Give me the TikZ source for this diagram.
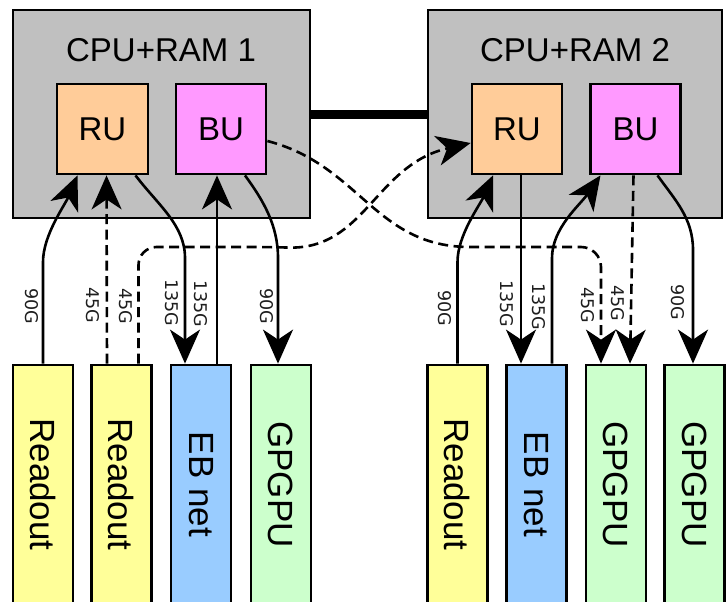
\documentclass[tikz,border=0pt]{standalone}
\usepackage{fontspec}
\setmainfont{Liberation Sans}
\newfontfamily\lblfont{DejaVu Sans}
\usepackage{graphicx}
\usetikzlibrary{arrows.meta}
\definecolor{boxgray}{RGB}{192,192,192}
\definecolor{ruc}{RGB}{255,204,153}
\definecolor{buc}{RGB}{255,153,255}
\definecolor{rdc}{RGB}{255,255,153}
\definecolor{ebc}{RGB}{153,204,255}
\definecolor{gpc}{RGB}{204,255,204}
\definecolor{labelgray}{RGB}{30,30,30}
\begin{document}
\begin{tikzpicture}[x=1pt,y=-1pt,
  outer/.style={draw, line width=2.8pt, fill=boxgray, inner sep=0pt},
  unitbox/.style={draw, line width=2.8pt, inner sep=0pt, minimum width=90pt, minimum height=90pt, font=\fontsize{33}{36}\selectfont},
  devbox/.style={draw, line width=2.8pt, inner sep=0pt, minimum width=60pt, minimum height=239pt, font=\fontsize{35}{38}\selectfont},
  title/.style={anchor=base, inner sep=0pt, font=\fontsize{33}{36}\selectfont},
  lbl/.style={rotate=-90, inner sep=0pt, text=labelgray, font=\lblfont\fontsize{17.5}{20}\selectfont},
  conn/.style={line width=2.6pt, -{Stealth[length=34pt,width=30pt,inset=10pt]}},
  dconn/.style={conn, dash pattern=on 10pt off 5.5pt},
]
\useasboundingbox (0,0) rectangle (726,602);
\fill[white] (0,0) rectangle (726,602);

% containers
\node[outer, minimum width=297pt, minimum height=208pt] (c1) at (161.5,114) {};
\node[outer, minimum width=294pt, minimum height=208pt] (c2) at (575,114) {};
\draw[line width=9pt] (c1.east) -- (c2.west);
\node[title] (t1) at (161,62) {CPU+RAM 1};
\node[title] (t2) at (575,62) {CPU+RAM 2};

% units
\node[unitbox, fill=ruc, minimum width=91pt] (ru1) at (102.5,129) {RU};
\node[unitbox, fill=buc] (bu1) at (221,129) {BU};
\node[unitbox, fill=ruc] (ru2) at (517,129) {RU};
\node[unitbox, fill=buc] (bu2) at (635.5,129) {BU};

% devices
\node[devbox, fill=rdc] (r1) at (43,484.5) {\rotatebox{-90}{Readout}};
\node[devbox, fill=rdc] (r2) at (121.5,484.5) {\rotatebox{-90}{Readout}};
\node[devbox, fill=ebc] (e1) at (201,484.5) {\rotatebox{-90}{EB net}};
\node[devbox, fill=gpc] (g1) at (281,484.5) {\rotatebox{-90}{GPGPU}};
\node[devbox, fill=rdc] (rd) at (457.5,484.5) {\rotatebox{-90}{Readout}};
\node[devbox, fill=ebc] (eR) at (536.5,484.5) {\rotatebox{-90}{EB net}};
\node[devbox, fill=gpc] (g3) at (616,484.5) {\rotatebox{-90}{GPGPU}};
\node[devbox, fill=gpc] (g4) at (694.5,484.5) {\rotatebox{-90}{GPGPU}};

% connectors, left
\draw[conn] (r1.north) -- (43,262) .. controls (43,235) and (65,205) .. ([xshift=-25pt]ru1.south);
\draw[dconn] ([xshift=-14.5pt]r2.north) -- ([xshift=4pt]ru1.south);
\draw[dconn] ([xshift=17pt]r2.north) [rounded corners=18pt] |- (270,247) [sharp corners] .. controls (365,250) and (375,165) .. ([yshift=-14pt]ru2.west);
\draw[conn] ([xshift=33pt]ru1.south) .. controls (158,205) and (185,225) .. (185,258) -- ([xshift=-16pt]e1.north);
\draw[conn] ([xshift=16pt]e1.north) -- ([xshift=-4pt]bu1.south);
\draw[conn] ([xshift=24pt]bu1.south) .. controls (263,200) and (278,225) .. (278,258) -- ([xshift=-3pt]g1.north);
\draw[dconn] ([yshift=-12pt]bu1.east) .. controls (360,165) and (375,247) .. (470,247) [rounded corners=20pt] -| ([xshift=-15pt]g3.north);

% connectors, right
\draw[conn] (rd.north) -- (457.5,262) .. controls (457.5,235) and (480,205) .. ([xshift=-24pt]ru2.south);
\draw[conn] ([xshift=4pt]ru2.south) -- ([xshift=-15.5pt]eR.north);
\draw[conn] ([xshift=15.5pt]eR.north) -- (552,258) .. controls (552,228) and (580,205) .. ([xshift=-35pt]bu2.south);
\draw[dconn] ([xshift=-2pt]bu2.south) -- ([xshift=14pt]g3.north);
\draw[conn] ([xshift=22pt]bu2.south) .. controls (675,200) and (693,218) .. (693,250) -- ([xshift=-1.5pt]g4.north);

% labels
\node[lbl] (l1) at (32,306) {90G};
\node[lbl] (l2) at (93,305) {45G};
\node[lbl] (l3) at (126,306) {45G};
\node[lbl] (l4) at (172,303) {135G};
\node[lbl] (l5) at (201,304) {135G};
\node[lbl] (l6) at (267,306) {90G};
\node[lbl] (l7) at (445,308) {90G};
\node[lbl] (l8) at (507,304) {135G};
\node[lbl] (l9) at (539,307) {135G};
\node[lbl] (l10) at (588,305) {45G};
\node[lbl] (l11) at (618,303) {45G};
\node[lbl] (l12) at (678,302) {90G};
\end{tikzpicture}
\end{document}
